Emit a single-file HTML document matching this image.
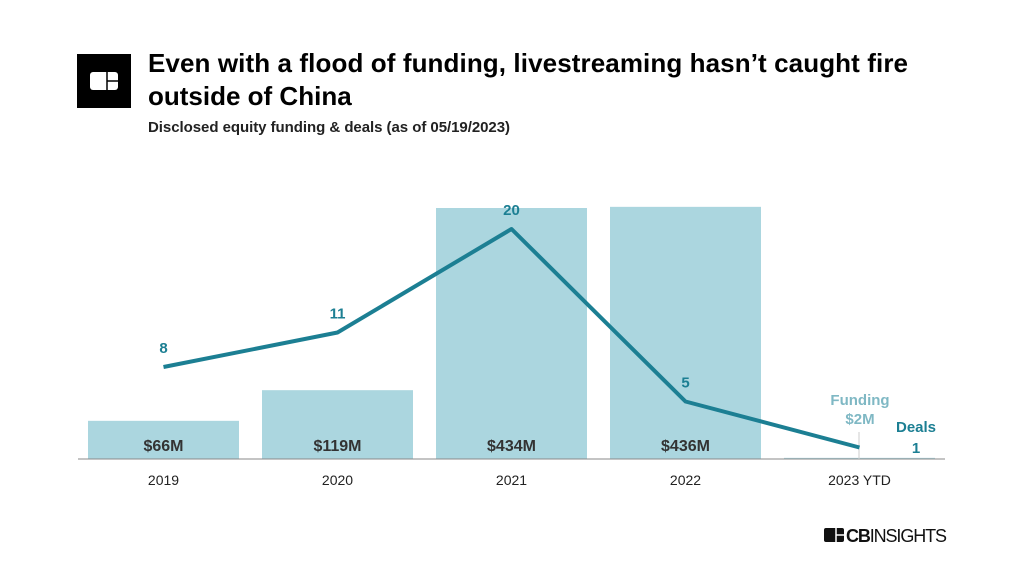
<!DOCTYPE html>
<html><head><meta charset="utf-8"><style>
body{margin:0;width:1024px;height:576px;background:#fff;overflow:hidden;font-family:"Liberation Sans",sans-serif}
</style></head><body>
<svg width="1024" height="576">
<rect x="77" y="54" width="54" height="54" fill="#000"/>
<rect x="90" y="72" width="28" height="18" rx="3" fill="#fff"/>
<line x1="107" y1="72" x2="107" y2="90" stroke="#000" stroke-width="1.5"/>
<line x1="107" y1="81" x2="118" y2="81" stroke="#000" stroke-width="1.5"/>
<text x="148" y="72" font-size="26" font-weight="bold" fill="#000" textLength="760">Even with a flood of funding, livestreaming hasn’t caught fire</text>
<text x="148" y="105" font-size="26" font-weight="bold" fill="#000">outside of China</text>
<text x="148" y="132" font-size="15" font-weight="bold" fill="#222" textLength="362">Disclosed equity funding &amp; deals (as of 05/19/2023)</text>
<g id="bars"></g>
<line x1="78" y1="459" x2="945" y2="459" stroke="#888" stroke-width="1"/>
<line x1="859" y1="432" x2="859" y2="459" stroke="#ccc" stroke-width="1"/>
<g id="line"></g>
<g id="labels"></g>
<text x="860" y="405" font-size="15" font-weight="bold" fill="#7fb8c4" text-anchor="middle">Funding</text>
<text x="860" y="424" font-size="15" font-weight="bold" fill="#7fb8c4" text-anchor="middle">$2M</text>
<text x="916" y="432" font-size="15" font-weight="bold" fill="#1c7f93" text-anchor="middle">Deals</text>
<text x="916" y="453" font-size="15" font-weight="bold" fill="#1c7f93" text-anchor="middle">1</text>
<g>
<rect x="824" y="528" width="20" height="14" rx="2" fill="#111"/>
<line x1="836" y1="528" x2="836" y2="542" stroke="#fff" stroke-width="1.5"/>
<line x1="836" y1="535" x2="844" y2="535" stroke="#fff" stroke-width="1.5"/>
<text x="846" y="542" font-size="18" fill="#111" textLength="101"><tspan font-weight="bold">CB</tspan>INSIGHTS</text>
</g>
</svg>
<script>
const categories=["2019","2020","2021","2022","2023 YTD"];
const funding=[66,119,434,436,2];
const fundingLabels=["$66M","$119M","$434M","$436M",""];
const deals=[8,11,20,5,1];
const NS="http://www.w3.org/2000/svg";
const base=459, fScale=251/434;
function xC(i){return 163.5+i*174;}
function yF(v){return base-v*fScale;}
function yD(v){return base-v*11.5;}
function mk(t,a,p){const e=document.createElementNS(NS,t);for(const k in a)e.setAttribute(k,a[k]);document.getElementById(p).appendChild(e);return e;}
categories.forEach((c,i)=>{
 const r=mk("rect",{x:xC(i)-75.5,y:yF(funding[i]),width:151,height:base-yF(funding[i]),fill:"#abd6df"},"bars");
 
 
 if(fundingLabels[i]){const t=mk("text",{x:xC(i),y:451,"font-size":16,"font-weight":"bold",fill:"#333","text-anchor":"middle"},"labels");t.textContent=fundingLabels[i];
 
 }
 const x=mk("text",{x:xC(i),y:485,"font-size":14,fill:"#222","text-anchor":"middle"},"labels");x.textContent=c;
 
 
 if(i<categories.length-1){const d=mk("text",{x:xC(i),y:yD(deals[i])-14,"font-size":15,"font-weight":"bold",fill:"#1c7f93","text-anchor":"middle"},"labels");d.textContent=deals[i];
 
 }
});
const pl=mk("polyline",{points:deals.map((d,i)=>xC(i)+","+yD(d)).join(" "),fill:"none",stroke:"#1c7f93","stroke-width":4,"stroke-linejoin":"round"},"line");


</script>
</body></html>
